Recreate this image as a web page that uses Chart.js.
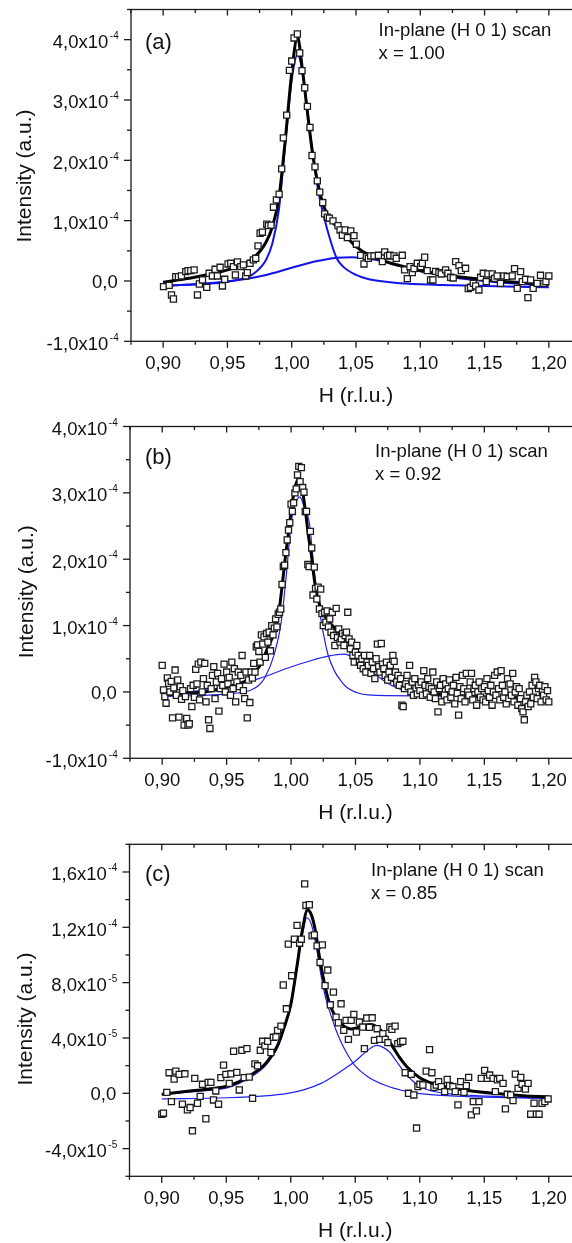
<!DOCTYPE html>
<html>
<head>
<meta charset="utf-8">
<title>In-plane (H 0 1) scans</title>
<script src="https://cdn.jsdelivr.net/npm/chart.js@4.4.1/dist/chart.umd.min.js"></script>
<style>
  html, body { margin: 0; padding: 0; background: #fff; width: 572px; height: 1243px; overflow: hidden; }
  canvas { position: absolute; left: 0; }
</style>
</head>
<body>
<canvas id="chartA" width="600" height="415" style="top:0px"></canvas>
<canvas id="chartB" width="600" height="420" style="top:415px"></canvas>
<canvas id="chartC" width="600" height="408" style="top:835px"></canvas>
<script>
'use strict';

/* ── Shared axis data ── */
const xMajorTicks = [0.90, 0.95, 1.00, 1.05, 1.10, 1.15, 1.20];
const xTickLabels = ['0,90', '0,95', '1,00', '1,05', '1,10', '1,15', '1,20'];
const xMinorTicks = [0.875, 0.925, 0.975, 1.025, 1.075, 1.125, 1.175, 1.225];

/* ── Panel (a), x = 1.00 — intensity in units of 1e-4 ── */
const hA = [
  0.9003, 0.9047, 0.9065, 0.9080, 0.9098, 0.9119, 0.9142, 0.9176, 0.9194, 0.9215,
  0.9241, 0.9267, 0.9282, 0.9306, 0.9339, 0.9358, 0.9383, 0.9404, 0.9422, 0.9443,
  0.9461, 0.9479, 0.9505, 0.9526, 0.9547, 0.9562, 0.9578, 0.9604, 0.9624, 0.9642,
  0.9655, 0.9676, 0.9702, 0.9720, 0.9738, 0.9754, 0.9772, 0.9806, 0.9819, 0.9839,
  0.9858, 0.9881, 0.9902, 0.9922, 0.9935, 0.9961, 0.9982, 1.0000, 1.0018, 1.0044,
  1.0062, 1.0080, 1.0101, 1.0122, 1.0142, 1.0158, 1.0181, 1.0199, 1.0218, 1.0241,
  1.0256, 1.0277, 1.0293, 1.0321, 1.0360, 1.0376, 1.0394, 1.0415, 1.0433, 1.0459,
  1.0484, 1.0503, 1.0536, 1.0562, 1.0580, 1.0596, 1.0614, 1.0640, 1.0674, 1.0705,
  1.0723, 1.0744, 1.0762, 1.0795, 1.0813, 1.0860, 1.0878, 1.0899, 1.0920, 1.0938,
  1.0951, 1.0977, 1.1003, 1.1016, 1.1034, 1.1054, 1.1080, 1.1098, 1.1119, 1.1145,
  1.1163, 1.1197, 1.1215, 1.1236, 1.1256, 1.1275, 1.1301, 1.1319, 1.1352, 1.1373,
  1.1391, 1.1412, 1.1430, 1.1456, 1.1469, 1.1490, 1.1513, 1.1526, 1.1560, 1.1578,
  1.1598, 1.1624, 1.1650, 1.1676, 1.1715, 1.1733, 1.1754, 1.1780, 1.1793, 1.1819,
  1.1837, 1.1858, 1.1878, 1.1909, 1.1935, 1.1961, 1.1977, 1.2000
];
const intA = [
  -0.094, -0.072, -0.232, -0.299, 0.072, 0.072, 0.083, 0.155, 0.172, 0.172,
  0.183, -0.232, -0.050, 0.017, -0.105, 0.127, 0.083, 0.194, 0.083, 0.227,
  -0.083, 0.028, 0.282, 0.293, 0.238, 0.100, 0.315, 0.238, 0.266, 0.083,
  0.138, 0.293, 0.349, 0.376, 0.581, 0.791, 0.808, 0.941, 0.918, 0.924,
  1.223, 1.344, 1.438, 1.859, 2.373, 2.750, 3.491, 3.646, 4.028, 4.094,
  3.779, 3.485, 3.203, 2.894, 2.545, 2.080, 1.892, 1.660, 1.472, 1.300,
  1.112, 1.057, 1.040, 0.996, 0.918, 0.846, 0.758, 0.846, 0.719, 0.830,
  0.752, 0.609, 0.426, 0.282, 0.404, 0.376, 0.415, 0.415, 0.426, 0.321,
  0.481, 0.415, 0.426, 0.415, 0.376, 0.426, 0.183, 0.039, 0.238, 0.138,
  0.205, 0.293, 0.238, 0.293, 0.393, 0.172, 0.017, 0.017, 0.160, 0.138,
  0.116, 0.183, 0.127, 0.061, 0.050, 0.321, 0.254, 0.172, 0.210, -0.127,
  -0.105, -0.039, -0.083, -0.149, 0.061, 0.127, -0.011, 0.116, 0.116, 0.044,
  0.083, -0.039, 0.083, 0.072, 0.083, 0.205, -0.122, 0.155, -0.011, 0.028,
  -0.277, 0.017, -0.122, -0.039, 0.094, -0.039, -0.011, 0.083
];
const totalHA = [0.900, 0.920, 0.940, 0.960, 0.970, 0.980, 0.985, 0.990, 0.995, 1.000, 1.0045, 1.008, 1.012, 1.016, 1.020, 1.025, 1.030, 1.035, 1.040, 1.050, 1.060, 1.070, 1.080, 1.090, 1.100, 1.120, 1.140, 1.160, 1.180, 1.200];
const totalA  = [-0.02, 0.044, 0.127, 0.254, 0.376, 0.642, 0.902, 1.372, 2.34, 3.447, 4.05, 3.557, 2.838, 2.147, 1.649, 1.234, 1.024, 0.902, 0.791, 0.570, 0.432, 0.349, 0.277, 0.227, 0.172, 0.100, 0.044, 0.000, -0.028, -0.050];
const peak1HA = [0.900, 0.940, 0.960, 0.970, 0.980, 0.985, 0.990, 0.995, 1.000, 1.0045, 1.009, 1.013, 1.017, 1.021, 1.025, 1.030, 1.035, 1.040, 1.050, 1.060, 1.080, 1.100, 1.150, 1.200];
const peak1A  = [-0.077, -0.039, 0.028, 0.116, 0.349, 0.625, 1.178, 2.285, 3.336, 3.751, 3.39, 2.672, 2.008, 1.455, 1.068, 0.680, 0.376, 0.238, 0.100, 0.028, -0.028, -0.055, -0.083, -0.105];
const peak2HA = [0.900, 0.920, 0.940, 0.960, 0.980, 1.000, 1.020, 1.035, 1.047, 1.060, 1.070, 1.080, 1.090, 1.100, 1.120, 1.140, 1.160, 1.180, 1.200];
const peak2A  = [-0.083, -0.060, -0.030, 0.020, 0.100, 0.220, 0.330, 0.385, 0.395, 0.370, 0.330, 0.270, 0.210, 0.160, 0.080, 0.020, -0.020, -0.050, -0.070];
const yTicksA = [-1, 0, 1, 2, 3, 4];
const yMinorA = [-0.5, 0.5, 1.5, 2.5, 3.5, 4.5];
const yTickLabelsA = [['-1,0x10', '-4'], ['0,0', ''], ['1,0x10', '-4'], ['2,0x10', '-4'], ['3,0x10', '-4'], ['4,0x10', '-4']];

/* ── Panel (b), x = 0.92 — intensity in units of 1e-4 ── */
const hB = [
  0.900, 0.901, 0.902, 0.903, 0.904, 0.905, 0.906, 0.907, 0.908, 0.909,
  0.910, 0.911, 0.912, 0.913, 0.914, 0.915, 0.916, 0.917, 0.918, 0.919,
  0.920, 0.921, 0.922, 0.923, 0.924, 0.925, 0.926, 0.927, 0.928, 0.929,
  0.930, 0.931, 0.932, 0.933, 0.934, 0.935, 0.936, 0.937, 0.938, 0.939,
  0.940, 0.941, 0.942, 0.943, 0.944, 0.945, 0.946, 0.947, 0.948, 0.949,
  0.950, 0.951, 0.952, 0.953, 0.954, 0.955, 0.956, 0.957, 0.958, 0.959,
  0.960, 0.961, 0.962, 0.963, 0.964, 0.965, 0.966, 0.967, 0.968, 0.969,
  0.970, 0.971, 0.972, 0.973, 0.974, 0.975, 0.976, 0.977, 0.978, 0.979,
  0.980, 0.981, 0.982, 0.983, 0.984, 0.985, 0.986, 0.987, 0.988, 0.989,
  0.990, 0.991, 0.992, 0.993, 0.994, 0.995, 0.996, 0.997, 0.998, 0.999,
  1.000, 1.001, 1.002, 1.003, 1.004, 1.005, 1.006, 1.007, 1.008, 1.009,
  1.010, 1.011, 1.012, 1.013, 1.014, 1.015, 1.016, 1.017, 1.018, 1.019,
  1.020, 1.021, 1.022, 1.023, 1.024, 1.025, 1.026, 1.027, 1.028, 1.029,
  1.030, 1.031, 1.032, 1.033, 1.034, 1.035, 1.036, 1.037, 1.038, 1.039,
  1.040, 1.041, 1.042, 1.043, 1.044, 1.045, 1.046, 1.047, 1.048, 1.049,
  1.050, 1.051, 1.052, 1.053, 1.054, 1.055, 1.056, 1.057, 1.058, 1.059,
  1.060, 1.061, 1.062, 1.063, 1.064, 1.065, 1.066, 1.067, 1.068, 1.069,
  1.070, 1.071, 1.072, 1.073, 1.074, 1.075, 1.076, 1.077, 1.078, 1.079,
  1.080, 1.081, 1.082, 1.083, 1.084, 1.085, 1.086, 1.087, 1.088, 1.089,
  1.090, 1.091, 1.092, 1.093, 1.094, 1.095, 1.096, 1.097, 1.098, 1.099,
  1.100, 1.101, 1.102, 1.103, 1.104, 1.105, 1.106, 1.107, 1.108, 1.109,
  1.110, 1.111, 1.112, 1.113, 1.114, 1.115, 1.116, 1.117, 1.118, 1.119,
  1.120, 1.121, 1.122, 1.123, 1.124, 1.125, 1.126, 1.127, 1.128, 1.129,
  1.130, 1.131, 1.132, 1.133, 1.134, 1.135, 1.136, 1.137, 1.138, 1.139,
  1.140, 1.141, 1.142, 1.143, 1.144, 1.145, 1.146, 1.147, 1.148, 1.149,
  1.150, 1.151, 1.152, 1.153, 1.154, 1.155, 1.156, 1.157, 1.158, 1.159,
  1.160, 1.161, 1.162, 1.163, 1.164, 1.165, 1.166, 1.167, 1.168, 1.169,
  1.170, 1.171, 1.172, 1.173, 1.174, 1.175, 1.176, 1.177, 1.178, 1.179,
  1.180, 1.181, 1.182, 1.183, 1.184, 1.185, 1.186, 1.187, 1.188, 1.189,
  1.190, 1.191, 1.192, 1.193, 1.194, 1.195, 1.196, 1.197, 1.198, 1.199, 1.200
];
const intB = [
  0.40, 0.03, -0.07, -0.17, 0.21, 0.13, 0.00, 0.16, -0.39, 0.06,
  0.33, -0.05, 0.18, -0.38, 0.08, -0.11, 0.02, -0.50, -0.07, -0.40,
  -0.50, -0.48, 0.05, -0.22, 0.10, -0.08, 0.34, 0.12, 0.42, -0.12,
  0.45, 0.00, 0.20, 0.43, -0.15, 0.10, -0.42, -0.55, 0.05, 0.25,
  0.38, -0.10, 0.15, 0.28, -0.29, 0.05, 0.20, 0.10, 0.42, 0.00,
  0.30, 0.12, 0.22, -0.05, 0.45, 0.05, 0.35, -0.15, 0.15, 0.30,
  0.08, 0.25, 0.55, 0.02, -0.10, 0.30, -0.39, 0.18, -0.16, 0.30,
  0.21, 0.43, 0.30, 0.68, 0.71, 0.61, 0.45, 0.86, 0.72, 0.83,
  0.52, 0.88, 0.75, 0.90, 0.62, 1.00, 0.86, 0.96, 1.10, 0.98,
  1.17, 1.20, 1.25, 1.62, 1.89, 1.91, 2.10, 2.29, 2.44, 2.55,
  2.83, 2.72, 2.85, 3.00, 3.06, 3.27, 3.40, 3.17, 3.38, 3.08,
  3.01, 2.72, 2.72, 1.92, 1.89, 2.42, 2.17, 1.46, 1.88, 1.56,
  1.40, 1.58, 1.25, 1.55, 1.18, 1.00, 1.20, 1.05, 1.22, 0.98,
  1.10, 0.90, 1.20, 0.85, 0.70, 1.26, 0.82, 0.95, 0.75, 0.80,
  0.88, 0.70, 0.85, 0.90, 1.20, 0.80, 0.65, 0.75, 0.55, 0.45,
  0.60, 0.70, 0.55, 0.45, 0.40, 0.50, 0.35, 0.55, 0.30, 0.45,
  0.40, 0.55, 0.28, 0.45, 0.35, 0.20, 0.50, 0.72, 0.38, 0.30,
  0.73, 0.42, 0.35, 0.25, 0.45, 0.18, 0.30, 0.40, 0.22, 0.55,
  0.46, 0.30, 0.15, 0.25, 0.10, 0.20, -0.20, -0.22, 0.05, 0.12,
  0.25, 0.08, 0.40, 0.00, 0.15, -0.05, 0.20, 0.05, -0.03, 0.10,
  0.02, 0.15, -0.05, 0.32, 0.10, -0.03, 0.20, 0.08, -0.08, 0.05,
  0.30, 0.00, -0.10, 0.15, -0.30, 0.05, 0.10, -0.15, 0.20, -0.05,
  0.12, -0.12, 0.05, 0.18, -0.08, 0.00, 0.10, -0.18, 0.22, -0.02,
  -0.35, 0.08, -0.10, 0.25, 0.05, -0.15, 0.28, 0.00, -0.05, 0.15,
  0.28, -0.12, 0.05, 0.10, -0.20, 0.00, 0.15, -0.08, 0.05, -0.12,
  0.08, -0.15, 0.20, 0.02, -0.08, 0.10, -0.20, 0.00, 0.25, -0.05,
  0.30, 0.05, -0.12, 0.32, 0.10, -0.08, 0.00, -0.18, 0.20, -0.10,
  0.12, -0.05, 0.28, -0.15, 0.00, 0.08, -0.20, 0.05, -0.10, -0.25,
  -0.30, -0.42, -0.15, -0.05, -0.22, 0.00, -0.18, 0.10, -0.08, 0.22,
  0.15, -0.10, 0.05, 0.10, -0.15, 0.00, -0.05, 0.08, -0.12, 0.02, -0.15
];
const totalHB = [0.900, 0.920, 0.940, 0.955, 0.965, 0.970, 0.977, 0.9815, 0.9872, 0.9906, 0.9937, 0.9958, 0.9981, 1.0007, 1.0033, 1.0058, 1.008, 1.011, 1.0135, 1.0157, 1.0183, 1.0222, 1.0274, 1.034, 1.039, 1.044, 1.052, 1.065, 1.080, 1.096, 1.124, 1.160, 1.200];
const totalB  = [-0.05, -0.02, 0.02, 0.10, 0.17, 0.27, 0.43, 0.65, 0.91, 1.21, 1.71, 2.07, 2.42, 2.82, 3.10, 3.21, 3.12, 2.75, 2.35, 2.07, 1.66, 1.31, 1.11, 0.96, 0.86, 0.76, 0.60, 0.36, 0.16, 0.03, -0.045, -0.08, -0.10];
const peak1HB = [0.900, 0.950, 0.969, 0.975, 0.9795, 0.9872, 0.9924, 0.9963, 1.0002, 1.0041, 1.0068, 1.010, 1.0144, 1.017, 1.0196, 1.0222, 1.0248, 1.0287, 1.0338, 1.039, 1.0442, 1.0597, 1.100, 1.200];
const peak1B  = [-0.07, -0.03, 0.03, 0.10, 0.21, 0.58, 1.06, 1.76, 2.57, 2.87, 2.94, 2.80, 2.52, 2.02, 1.56, 1.21, 0.91, 0.56, 0.31, 0.16, 0.055, -0.045, -0.06, -0.08];
const peak2HB = [0.900, 0.945, 0.975, 0.9976, 1.015, 1.0287, 1.041, 1.0494, 1.057, 1.065, 1.072, 1.080, 1.090, 1.100, 1.120, 1.160, 1.200];
const peak2B  = [-0.04, 0.06, 0.20, 0.36, 0.47, 0.54, 0.57, 0.51, 0.40, 0.27, 0.17, 0.08, 0.01, -0.03, -0.06, -0.08, -0.09];
const yTicksB = [-1, 0, 1, 2, 3, 4];
const yMinorB = [-0.5, 0.5, 1.5, 2.5, 3.5];
const yTickLabelsB = [['-1,0x10', '-4'], ['0,0', ''], ['1,0x10', '-4'], ['2,0x10', '-4'], ['3,0x10', '-4'], ['4,0x10', '-4']];

/* ── Panel (c), x = 0.85 — intensity in units of 1e-5 ── */
const hC = [
  0.9000, 0.9013, 0.9039, 0.9057, 0.9075, 0.9096, 0.9109, 0.9135, 0.9160, 0.9179,
  0.9199, 0.9220, 0.9238, 0.9256, 0.9277, 0.9298, 0.9316, 0.9342, 0.9360, 0.9381,
  0.9401, 0.9419, 0.9440, 0.9458, 0.9479, 0.9497, 0.9523, 0.9536, 0.9557, 0.9582,
  0.9601, 0.9621, 0.9639, 0.9660, 0.9678, 0.9704, 0.9722, 0.9743, 0.9764, 0.9782,
  0.9800, 0.9821, 0.9846, 0.9865, 0.9885, 0.9898, 0.9924, 0.9942, 0.9966, 0.9981,
  1.0007, 1.0028, 1.0049, 1.0069, 1.0082, 1.0108, 1.0118, 1.0144, 1.0165, 1.0183,
  1.0204, 1.0227, 1.0245, 1.0266, 1.0287, 1.0307, 1.0331, 1.0351, 1.0369, 1.0390,
  1.0411, 1.0429, 1.0447, 1.0468, 1.0489, 1.0509, 1.0532, 1.0558, 1.0571, 1.0589,
  1.0610, 1.0631, 1.0649, 1.0670, 1.0690, 1.0714, 1.0732, 1.0753, 1.0768, 1.0784,
  1.0809, 1.0830, 1.0851, 1.0869, 1.0887, 1.0913, 1.0934, 1.0954, 1.0975, 1.0986,
  1.1001, 1.1024, 1.1050, 1.1076, 1.1094, 1.1110, 1.1128, 1.1146, 1.1167, 1.1193,
  1.1213, 1.1231, 1.1257, 1.1275, 1.1296, 1.1317, 1.1343, 1.1361, 1.1379, 1.1400,
  1.1415, 1.1439, 1.1459, 1.1477, 1.1503, 1.1524, 1.1542, 1.1568, 1.1586, 1.1602,
  1.1620, 1.1646, 1.1664, 1.1679, 1.1705, 1.1723, 1.1741, 1.1762, 1.1783, 1.1793,
  1.1819, 1.1840, 1.1860, 1.1886, 1.1904, 1.1925, 1.1948, 1.1969, 1.1995
];
const intC = [
  -1.51, -1.44, 0.07, 1.49, -0.60, 1.03, 1.60, 1.37, -0.79, 1.41,
  -1.20, -1.03, -2.71, 1.08, -0.72, -0.22, 0.65, -1.84, 0.79, 0.79,
  -0.48, 0.17, -0.79, 1.13, 2.04, 1.37, 0.72, 1.41, 3.04, 1.51,
  0.24, 3.11, 1.13, 3.23, 1.17, -0.36, 2.13, 1.99, 3.11, 3.76,
  3.43, 3.76, 2.95, 4.05, 4.07, 4.55, 4.86, 7.83, 6.11, 10.78,
  8.50, 11.14, 12.14, 10.85, 11.14, 15.14, 13.58, 13.63, 11.38, 11.45,
  10.66, 9.46, 10.73, 7.78, 8.91, 6.40, 7.31, 5.51, 5.10, 6.47,
  4.55, 5.27, 3.90, 5.27, 5.70, 4.43, 5.15, 4.79, 3.23, 5.44,
  4.77, 5.46, 3.83, 4.67, 3.90, 4.31, 3.90, 3.66, 4.79, 4.62,
  4.86, 3.59, 3.71, 3.76, 1.49, 0.00, 1.37, -0.12, -2.51, 0.48,
  0.65, 0.60, 1.60, 3.16, 1.49, 0.43, 0.60, 0.84, 0.48, 0.12,
  1.01, 0.55, 0.48, 0.12, -0.84, 0.84, 0.07, 0.55, 1.15, -1.56,
  -0.60, -1.27, -0.60, 1.08, 1.65, 1.08, 1.32, 1.08, 0.12, 0.98,
  1.08, 0.72, -1.13, -0.07, -0.12, -0.53, 1.39, 0.36, 1.15, 0.65,
  0.31, 0.72, -1.51, -0.72, -1.51, -1.51, -0.72, -0.60, -0.41
];
const totalHC = [0.900, 0.920, 0.940, 0.950, 0.960, 0.970, 0.980, 0.985, 0.990, 0.995, 1.000, 1.005, 1.009, 1.013, 1.016, 1.019, 1.022, 1.026, 1.030, 1.035, 1.040, 1.047, 1.055, 1.062, 1.068, 1.075, 1.080, 1.085, 1.090, 1.100, 1.110, 1.120, 1.140, 1.160, 1.180, 1.200];
const totalC  = [-0.07, 0.15, 0.35, 0.50, 0.85, 1.37, 2.10, 2.70, 3.50, 4.80, 6.40, 9.30, 11.80, 13.25, 12.90, 11.80, 10.00, 8.00, 6.50, 5.50, 4.95, 4.65, 4.82, 4.98, 4.72, 3.95, 3.23, 2.50, 1.92, 1.13, 0.72, 0.48, 0.17, -0.02, -0.17, -0.26];
const peak1HC = [0.900, 0.920, 0.940, 0.950, 0.960, 0.970, 0.980, 0.985, 0.990, 0.995, 1.000, 1.005, 1.009, 1.0125, 1.016, 1.019, 1.0235, 1.027, 1.0312, 1.035, 1.039, 1.044, 1.0494, 1.0597, 1.0727, 1.0908, 1.1115, 1.137, 1.200];
const peak1C  = [-0.10, 0.08, 0.25, 0.38, 0.72, 1.22, 1.95, 2.55, 3.35, 4.65, 6.25, 9.10, 11.40, 12.69, 12.20, 11.00, 8.50, 6.90, 5.63, 4.60, 3.71, 2.80, 2.04, 1.20, 0.60, 0.12, -0.12, -0.24, -0.36];
const peak2HC = [0.900, 0.950, 0.980, 0.9976, 1.010, 1.0235, 1.0364, 1.0494, 1.0597, 1.0665, 1.072, 1.077, 1.082, 1.088, 1.095, 1.102, 1.110, 1.120, 1.140, 1.170, 1.200];
const peak2C  = [-0.41, -0.32, -0.18, 0.00, 0.25, 0.72, 1.44, 2.28, 3.11, 3.47, 3.30, 2.95, 2.30, 1.55, 0.85, 0.40, 0.15, 0.00, -0.15, -0.28, -0.36];
const yTicksC = [-4, 0, 4, 8, 12, 16];
const yMinorC = [-6, -2, 2, 6, 10, 14, 18];
const yTickLabelsC = [['-4,0x10', '-5'], ['0,0', ''], ['4,0x10', '-5'], ['8,0x10', '-5'], ['1,2x10', '-4'], ['1,6x10', '-4']];

/* ── Drawing helpers ── */
const FONT = '"Liberation Sans", Arial, Helvetica, sans-serif';
const toXY = (hs, ys) => hs.map((h, i) => ({ x: h, y: ys[i] }));

// Axis frame, ticks, labels and annotations (drawn after the data)
const framePlugin = {
  id: 'frame',
  afterDraw(chart, args, o) {
    const { ctx, chartArea: a, scales: { x, y } } = chart;
    const seg = (x1, y1, x2, y2) => { ctx.beginPath(); ctx.moveTo(x1, y1); ctx.lineTo(x2, y2); ctx.stroke(); };
    ctx.save();
    ctx.strokeStyle = '#1a1a1a';
    ctx.lineWidth = 1.3;
    ctx.strokeRect(a.left, a.top, a.right - a.left, a.bottom - a.top);

    xMajorTicks.forEach(v => { const px = x.getPixelForValue(v); seg(px, a.bottom, px, a.bottom + 6.5); seg(px, a.top, px, a.top + 6); });
    xMinorTicks.forEach(v => { const px = x.getPixelForValue(v); seg(px, a.bottom, px, a.bottom + 3.5); seg(px, a.top, px, a.top + 3.5); });
    o.yTicks.forEach(v => { const py = y.getPixelForValue(v); seg(a.left - 7, py, a.left, py); seg(a.right, py, a.right - 7, py); });
    o.yMinor.forEach(v => { const py = y.getPixelForValue(v); seg(a.left - 4, py, a.left, py); seg(a.right, py, a.right - 4, py); });

    ctx.fillStyle = '#111';
    ctx.textBaseline = 'alphabetic';

    // x tick labels
    ctx.font = `18.5px ${FONT}`;
    ctx.textAlign = 'center';
    xMajorTicks.forEach((v, i) => ctx.fillText(xTickLabels[i], x.getPixelForValue(v), a.bottom + 28));

    // y tick labels with superscript exponent
    const rightEdge = a.left - 12.3;
    ctx.textAlign = 'right';
    o.yTicks.forEach((v, i) => {
      const [mant, exp] = o.yLabels[i];
      const py = y.getPixelForValue(v);
      if (exp) {
        ctx.font = `10px ${FONT}`;
        const ew = ctx.measureText(exp).width;
        ctx.fillText(exp, rightEdge, py - 0.8);
        ctx.font = `18.5px ${FONT}`;
        ctx.fillText(mant, rightEdge - ew - 1.5, py + 8.3);
      } else {
        ctx.font = `18.5px ${FONT}`;
        ctx.fillText(mant, rightEdge - 1, py + 6.6);
      }
    });

    // axis titles
    ctx.font = `21px ${FONT}`;
    ctx.textAlign = 'center';
    ctx.fillText('H (r.l.u.)', (a.left + a.right) / 2, a.bottom + 61);
    ctx.save();
    ctx.translate(o.yTitleX, o.yTitleY);
    ctx.rotate(-Math.PI / 2);
    ctx.fillText('Intensity (a.u.)', 0, 0);
    ctx.restore();

    // panel letter and scan annotation
    ctx.textAlign = 'left';
    ctx.font = `22px ${FONT}`;
    ctx.fillText(o.letter, 145, o.letterY);
    ctx.font = `18.5px ${FONT}`;
    ctx.fillText('In-plane (H 0 1) scan', o.noteX, o.noteY[0]);
    ctx.fillText(o.composition, o.noteX, o.noteY[1]);
    ctx.restore();
  }
};

const makePanel = (id, p) => {
  const el = document.getElementById(id);
  const lineDs = (data, color, width) => ({
    data, showLine: true, borderColor: color, borderWidth: width,
    pointRadius: 0, pointHoverRadius: 0, fill: false, cubicInterpolationMode: 'monotone'
  });
  return new Chart(el, {
    type: 'scatter',
    data: {
      datasets: [
        { data: p.points, pointStyle: 'rect', pointRadius: 4.3, pointBorderWidth: 1.3,
          pointBorderColor: '#1c1c1c', pointBackgroundColor: '#ffffff', showLine: false },
        lineDs(p.total, '#000000', 3),
        lineDs(p.peak1, p.blue, p.blueWidth),
        lineDs(p.peak2, p.blue, p.blueWidth)
      ]
    },
    options: {
      responsive: false,
      animation: false,
      events: [],
      layout: { autoPadding: false, padding: { top: p.areaTop, right: el.width - 581, bottom: 0, left: 0 } },
      scales: {
        x: {
          type: 'linear', min: 0.875, max: 1.225,
          grid: { display: false }, border: { display: false }, ticks: { display: false },
          afterFit: s => { s.height = el.height - p.areaBottom; }
        },
        y: {
          type: 'linear', min: p.yMin, max: p.yMax,
          grid: { display: false }, border: { display: false }, ticks: { display: false },
          afterFit: s => { s.width = p.areaLeft; }
        }
      },
      plugins: {
        legend: { display: false },
        tooltip: { enabled: false },
        frame: {
          yTicks: p.yTicks, yMinor: p.yMinor, yLabels: p.yLabels,
          yTitleX: p.yTitleX, yTitleY: p.yTitleY,
          letter: p.letter, letterY: p.letterY,
          composition: p.composition, noteX: p.noteX, noteY: p.noteY
        }
      }
    },
    plugins: [framePlugin]
  });
};

makePanel('chartA', {
  points: toXY(hA, intA), total: toXY(totalHA, totalA), peak1: toXY(peak1HA, peak1A), peak2: toXY(peak2HA, peak2A),
  blue: '#1212e8', blueWidth: 2,
  yMin: -1, yMax: 4.5, yTicks: yTicksA, yMinor: yMinorA, yLabels: yTickLabelsA,
  areaTop: 9.5, areaBottom: 341.3, areaLeft: 131,
  yTitleX: 30.5, yTitleY: 176,
  letter: '(a)', letterY: 49, composition: 'x = 1.00', noteX: 378.5, noteY: [36, 59.3]
});

makePanel('chartB', {
  points: toXY(hB, intB), total: toXY(totalHB, totalB), peak1: toXY(peak1HB, peak1B), peak2: toXY(peak2HB, peak2B),
  blue: '#2020f0', blueWidth: 1.2,
  yMin: -1, yMax: 4, yTicks: yTicksB, yMinor: yMinorB, yLabels: yTickLabelsB,
  areaTop: 11.5, areaBottom: 343.3, areaLeft: 130,
  yTitleX: 32.5, yTitleY: 176.7,
  letter: '(b)', letterY: 49, composition: 'x = 0.92', noteX: 375, noteY: [42.3, 65]
});

makePanel('chartC', {
  points: toXY(hC, intC), total: toXY(totalHC, totalC), peak1: toXY(peak1HC, peak1C), peak2: toXY(peak2HC, peak2C),
  blue: '#2020f0', blueWidth: 1.2,
  yMin: -6, yMax: 18, yTicks: yTicksC, yMinor: yMinorC, yLabels: yTickLabelsC,
  areaTop: 9.3, areaBottom: 341.3, areaLeft: 129.5,
  yTitleX: 32, yTitleY: 184,
  letter: '(c)', letterY: 45.7, composition: 'x = 0.85', noteX: 371, noteY: [40.7, 64.3]
});
</script>
</body>
</html>
